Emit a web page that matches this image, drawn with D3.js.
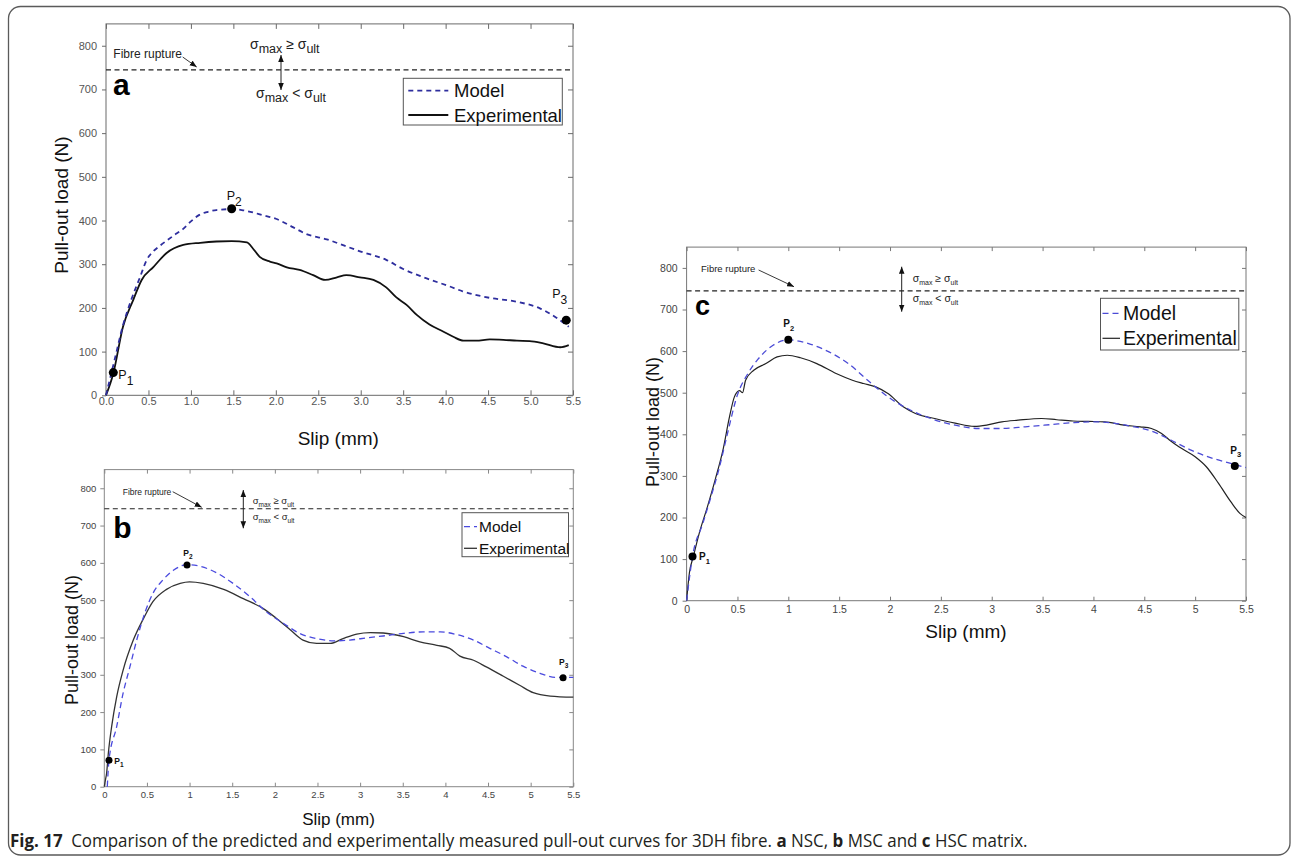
<!DOCTYPE html>
<html>
<head>
<meta charset="utf-8">
<script src="https://cdn.jsdelivr.net/npm/d3@7"></script>
<style>
  body { margin: 0; background: #fff; }
  svg { display: block; }
</style>
</head>
<body>
<div id="fig"></div>
<script>
// ---- data ----
const yTicks = [0, 100, 200, 300, 400, 500, 600, 700, 800];
const xTicks = [0, 0.5, 1, 1.5, 2, 2.5, 3, 3.5, 4, 4.5, 5, 5.5];
const ruptureLoad = 745;
const seriesNames = ["Model", "Experimental"];
const pointNames = ["1", "2", "3"];

// panel a (NSC)
const aModel = [[0,0],[0.1,80],[0.2,160],[0.3,220],[0.4,270],[0.48,310],[0.56,330],[0.64,343],[0.8,366],[0.91,381],
  [1.0,398],[1.1,413],[1.2,420],[1.3,424],[1.48,426],[1.6,424],[1.7,420],[1.85,412],[2.0,404],[2.2,385],[2.36,369],
  [2.6,357],[2.8,343],[3.0,329],[3.3,310],[3.5,289],[3.74,270],[4.05,249],[4.2,238],[4.52,223],[4.84,214],
  [5.11,199],[5.3,178],[5.45,157]];
const aExp = [[0,0],[0.086,50],[0.2,157],[0.32,218],[0.42,264],[0.56,294],[0.71,325],[0.91,344],[1.11,349],
  [1.3,352],[1.48,353],[1.66,350],[1.73,336],[1.81,317],[1.93,306],[2.01,302],[2.13,293],[2.28,287],[2.44,275],
  [2.58,264],[2.72,270],[2.83,275],[2.99,270],[3.15,264],[3.3,247],[3.42,224],[3.54,207],[3.66,184],[3.81,162],
  [3.97,146],[4.09,134],[4.21,125],[4.36,125],[4.52,128],[4.68,127],[4.84,125],[4.99,124],[5.15,119],
  [5.35,110],[5.45,115]];
const aPoints = [[0.086,52],[1.48,427],[5.42,172]];

// panel b (MSC)
const bModel = [[0.035,0],[0.055,71],[0.145,161],[0.22,250],[0.3,321],[0.38,393],[0.48,469],[0.57,518],[0.69,555],
  [0.81,580],[0.97,595],[1.12,591],[1.32,573],[1.51,545],[1.71,509],[1.9,469],[2.1,438],[2.29,411],[2.49,397],
  [2.69,391],[2.88,393],[3.08,399],[3.27,404],[3.51,411],[3.74,415],[3.94,415],[4.13,408],[4.33,393],[4.52,371],
  [4.72,348],[4.91,323],[5.11,304],[5.3,293],[5.5,293]];
const bExp = [[0,0],[0.015,20],[0.027,36],[0.047,89],[0.086,161],[0.145,241],[0.22,312],[0.34,393],[0.46,451],
  [0.57,496],[0.73,529],[0.89,545],[1.0,549],[1.16,545],[1.4,529],[1.63,504],[1.86,478],[2.02,451],[2.18,421],
  [2.33,393],[2.49,384],[2.65,384],[2.8,397],[2.96,409],[3.12,413],[3.27,412],[3.51,402],[3.7,388],[3.9,379],
  [4.05,371],[4.17,350],[4.33,339],[4.48,321],[4.68,296],[4.87,272],[5.03,252],[5.23,243],[5.5,240]];
const bPoints = [[0.055,71],[0.97,594],[5.38,292]];

// panel c (HSC)
const cModel = [[0,0],[0.058,106],[0.16,186],[0.24,250],[0.32,318],[0.4,400],[0.5,495],[0.6,545],[0.7,580],
  [0.85,614],[1.0,627],[1.2,618],[1.4,598],[1.59,570],[1.78,530],[1.98,490],[2.17,462],[2.4,438],[2.64,422],
  [2.87,414],[3.1,414],[3.33,418],[3.57,423],[3.8,428],[3.99,430],[4.19,427],[4.38,419],[4.57,408],[4.77,385],
  [4.96,362],[5.15,344],[5.35,330],[5.5,320]];
const cExp = [[0,0],[0.027,66],[0.066,106],[0.124,162],[0.2,222],[0.28,290],[0.36,365],[0.42,440],[0.47,490],
  [0.52,505],[0.55,500],[0.58,530],[0.66,554],[0.78,570],[0.89,586],[0.99,590],[1.12,584],[1.28,570],[1.47,546],
  [1.63,530],[1.74,522],[1.86,514],[1.98,498],[2.13,466],[2.25,450],[2.44,438],[2.64,427],[2.83,419],[2.95,422],
  [3.1,430],[3.26,434],[3.49,438],[3.64,435],[3.8,432],[3.95,431],[4.11,430],[4.3,422],[4.46,418],[4.57,414],
  [4.67,402],[4.76,384],[4.84,370],[5.0,346],[5.11,322],[5.23,282],[5.35,238],[5.44,210],[5.5,200]];
const cPoints = [[0.058,106],[1.0,627],[5.39,324]];

const FONT = "'Liberation Sans', Arial, sans-serif";

// ---- layout / style of each panel ----
const panels = [
  { tag: "a", model: aModel, exp: aExp, pts: aPoints,
    x0: 106, x1: 573, yBase: 395.3, yTop: 23.9, xFmt: d3.format(".1f"),
    axis: "#6a6a6a", tickCol: "#555", tickFs: 11, tickLen: 5, padX: 2, padY: 5,
    modelCol: "#2e2e9e", modelW: 1.8, modelDash: "5,4", expCol: "#111", expW: 1.8,
    r: 4.5, pFs: 12.5, pSub: 12, pBold: false, pSubDy: 6,
    pOff: [[5, 6], [-5, -9], [-14, -22]],
    tag_xy: [113, 95], tagFs: 30,
    yLab: [61.7, 205, 19], xLab: [338.3, 444.5, 19],
    rupText: [113.3, 57.5, 12], rupArrow: [182.7, 57, 196.7, 67],
    vArrow: [281, 55, 90], sigUp: [250, 49], sigLo: [256, 98], sigFs: 14, sigSub: 12.5, sigDy: 4,
    relUp: "\u2265",
    legend: { x: 403.3, y: 78.3, w: 159, h: 46.7, l0: 408.3, l1: 448.3, tx: 454, y1: 90.7, y2: 115, fs: 18.5, stroke: "#555" } },
  { tag: "b", model: bModel, exp: bExp, pts: bPoints,
    x0: 104.3, x1: 573.3, yBase: 786.7, yTop: 469.6, xFmt: d3.format(""),
    axis: "#888", tickCol: "#444", tickFs: 9.5, tickLen: 4, padX: 5, padY: 4,
    modelCol: "#4a4ade", modelW: 1.3, modelDash: "6,4", expCol: "#333", expW: 1.3,
    r: 3.5, pFs: 8.5, pSub: 6.5, pBold: true, pSubDy: 3,
    pOff: [[5.3, 3.5], [-3.7, -9], [-4, -12.5]],
    tag_xy: [113.3, 538], tagFs: 30,
    yLab: [72, 640, 18], xLab: [338.5, 825, 17],
    rupText: [122.7, 494.5, 8.5], rupArrow: [172.7, 491.7, 201.7, 507.3],
    vArrow: [243.3, 490, 528.3], sigUp: [252.7, 504], sigLo: [252.7, 520], sigFs: 9.5, sigSub: 6.5, sigDy: 3,
    relUp: "\u2265",
    legend: { x: 462, y: 512.7, w: 106.5, h: 44, l0: 464, l1: 477, tx: 479, y1: 526.7, y2: 548.3, fs: 15.5, stroke: "#555" } },
  { tag: "c", model: cModel, exp: cExp, pts: cPoints,
    x0: 686.6, x1: 1246, yBase: 600.7, yTop: 247.1, xFmt: d3.format(""),
    axis: "#777", tickCol: "#444", tickFs: 10.5, tickLen: 4, padX: 5, padY: 5,
    modelCol: "#4b4bd6", modelW: 1.3, modelDash: "6,4", expCol: "#222", expW: 1.2,
    r: 4, pFs: 10, pSub: 7.5, pBold: true, pSubDy: 3.5,
    pOff: [[6.5, 3.5], [-5, -12.4], [-4.5, -12]],
    tag_xy: [695, 315], tagFs: 27,
    yLab: [652.8, 422, 18], xLab: [966, 638, 19],
    rupText: [701, 271.5, 9.5], rupArrow: [758.6, 270, 794, 286.7],
    vArrow: [901.7, 266.7, 311.7], sigUp: [912.7, 282], sigLo: [912.7, 302], sigFs: 10.5, sigSub: 7, sigDy: 3,
    relUp: "\u2265",
    legend: { x: 1100.5, y: 298.3, w: 138.3, h: 51.7, l0: 1102.5, l1: 1120, tx: 1123, y1: 313.3, y2: 338.3, fs: 19.5, stroke: "#555" } }
];

const W = 1293, H = 865;
const svg = d3.select("#fig").append("svg").attr("width", W).attr("height", H);

// arrow head marker
svg.append("defs").append("marker")
  .attr("id", "head")
  .attr("viewBox", "0 0 10 8")
  .attr("refX", 10).attr("refY", 4)
  .attr("markerWidth", 7).attr("markerHeight", 6)
  .attr("markerUnits", "userSpaceOnUse")
  .attr("orient", "auto-start-reverse")
  .append("path").attr("d", "M0,0L10,4L0,8Z").attr("fill", "#111");

// outer rounded frame
svg.append("rect")
  .attr("x", 8.5).attr("y", 6.5)
  .attr("width", 1281.5).attr("height", 848.5)
  .attr("rx", 12).attr("ry", 12)
  .attr("fill", "none").attr("stroke", "#5a5a5a").attr("stroke-width", 1.3);

function sigma(g, x, y, rel, p) {
  const t = g.append("text").attr("x", x).attr("y", y)
    .attr("font-family", FONT).attr("font-size", p.sigFs).attr("fill", "#222");
  t.append("tspan").text("\u03c3");
  t.append("tspan").attr("font-size", p.sigSub).attr("dy", p.sigDy).text("max");
  t.append("tspan").attr("dy", -p.sigDy).text(" " + rel + " ");
  t.append("tspan").text("\u03c3");
  t.append("tspan").attr("font-size", p.sigSub).attr("dy", p.sigDy).text("ult");
}

function drawPanel(p) {
  const g = svg.append("g").attr("class", "panel-" + p.tag);
  const x = d3.scaleLinear().domain([0, 5.5]).range([p.x0, p.x1]);
  const y = d3.scaleLinear().domain([0, 850]).range([p.yBase, p.yTop]);

  const style = sel => {
    sel.select(".domain").remove();
    sel.selectAll("line").attr("stroke", p.axis);
    sel.selectAll("text").attr("fill", p.tickCol).attr("font-size", p.tickFs).attr("font-family", FONT);
  };

  // ticks: left outward, the others inward
  g.append("g").attr("transform", `translate(${p.x0},0)`)
    .call(d3.axisLeft(y).tickValues(yTicks).tickSizeInner(4).tickSizeOuter(0).tickPadding(p.padY))
    .call(style);
  g.append("g").attr("transform", `translate(0,${p.yBase})`)
    .call(d3.axisBottom(x).tickValues(xTicks).tickFormat(p.xFmt).tickSizeInner(-p.tickLen).tickSizeOuter(0).tickPadding(p.padX))
    .call(style);
  g.append("g").attr("transform", `translate(0,${p.yTop})`)
    .call(d3.axisTop(x).tickValues(xTicks).tickFormat("").tickSizeInner(-p.tickLen).tickSizeOuter(0))
    .call(style);
  g.append("g").attr("transform", `translate(${p.x1},0)`)
    .call(d3.axisRight(y).tickValues(yTicks).tickFormat("").tickSizeInner(-p.tickLen).tickSizeOuter(0))
    .call(style);

  g.append("rect")
    .attr("x", p.x0).attr("y", p.yTop)
    .attr("width", p.x1 - p.x0).attr("height", p.yBase - p.yTop)
    .attr("fill", "none").attr("stroke", p.axis).attr("stroke-width", 1);

  // fibre rupture line
  g.append("line")
    .attr("x1", x(0)).attr("x2", x(5.5))
    .attr("y1", y(ruptureLoad)).attr("y2", y(ruptureLoad))
    .attr("stroke", "#222").attr("stroke-width", 1.2).attr("stroke-dasharray", "5,3.5");
  g.append("text")
    .attr("x", p.rupText[0]).attr("y", p.rupText[1])
    .attr("font-family", FONT).attr("font-size", p.rupText[2]).attr("fill", "#222")
    .text("Fibre rupture");
  g.append("line")
    .attr("x1", p.rupArrow[0]).attr("y1", p.rupArrow[1])
    .attr("x2", p.rupArrow[2]).attr("y2", p.rupArrow[3])
    .attr("stroke", "#222").attr("stroke-width", 0.9)
    .attr("marker-end", "url(#head)");
  g.append("line")
    .attr("x1", p.vArrow[0]).attr("x2", p.vArrow[0])
    .attr("y1", p.vArrow[1]).attr("y2", p.vArrow[2])
    .attr("stroke", "#222").attr("stroke-width", 1)
    .attr("marker-start", "url(#head)").attr("marker-end", "url(#head)");
  sigma(g, p.sigUp[0], p.sigUp[1], p.relUp, p);
  sigma(g, p.sigLo[0], p.sigLo[1], "<", p);

  // curves
  const line = d3.line().x(d => x(d[0])).y(d => y(d[1])).curve(d3.curveMonotoneX);
  g.append("path").datum(p.exp)
    .attr("d", line).attr("fill", "none")
    .attr("stroke", p.expCol).attr("stroke-width", p.expW).attr("stroke-linejoin", "round");
  g.append("path").datum(p.model)
    .attr("d", line).attr("fill", "none")
    .attr("stroke", p.modelCol).attr("stroke-width", p.modelW).attr("stroke-dasharray", p.modelDash);

  // P1..P3 markers
  g.selectAll("circle.pt").data(p.pts).join("circle")
    .attr("class", "pt")
    .attr("cx", d => x(d[0])).attr("cy", d => y(d[1])).attr("r", p.r).attr("fill", "#000");
  const labs = g.selectAll("text.plab").data(p.pts).join("text")
    .attr("class", "plab")
    .attr("x", (d, i) => x(d[0]) + p.pOff[i][0])
    .attr("y", (d, i) => y(d[1]) + p.pOff[i][1])
    .attr("font-family", FONT).attr("font-size", p.pFs)
    .attr("font-weight", p.pBold ? "bold" : "normal").attr("fill", "#111");
  labs.append("tspan").text("P");
  labs.append("tspan").attr("font-size", p.pSub).attr("dy", p.pSubDy).text((d, i) => pointNames[i]);

  // panel letter
  g.append("text")
    .attr("x", p.tag_xy[0]).attr("y", p.tag_xy[1])
    .attr("font-family", FONT).attr("font-weight", "bold").attr("font-size", p.tagFs).attr("fill", "#000")
    .text(p.tag);

  // axis titles
  g.append("text")
    .attr("transform", `translate(${p.yLab[0]},${p.yLab[1]}) rotate(-90)`)
    .attr("text-anchor", "middle").attr("dy", "0.35em")
    .attr("font-family", FONT).attr("font-size", p.yLab[2]).attr("fill", "#111")
    .text("Pull-out load (N)");
  g.append("text")
    .attr("x", p.xLab[0]).attr("y", p.xLab[1])
    .attr("text-anchor", "middle")
    .attr("font-family", FONT).attr("font-size", p.xLab[2]).attr("fill", "#111")
    .text("Slip (mm)");

  // legend
  const L = p.legend;
  const lg = g.append("g");
  lg.append("rect")
    .attr("x", L.x).attr("y", L.y).attr("width", L.w).attr("height", L.h)
    .attr("fill", "#fff").attr("stroke", L.stroke).attr("stroke-width", 1);
  const rows = [
    { name: seriesNames[0], yy: L.y1, col: p.modelCol, dash: p.modelDash, w: p.modelW },
    { name: seriesNames[1], yy: L.y2, col: p.expCol, dash: null, w: p.expW }
  ];
  rows.forEach(r => {
    lg.append("line")
      .attr("x1", L.l0).attr("x2", L.l1).attr("y1", r.yy).attr("y2", r.yy)
      .attr("stroke", r.col).attr("stroke-width", r.w)
      .attr("stroke-dasharray", r.dash);
    lg.append("text")
      .attr("x", L.tx).attr("y", r.yy).attr("dy", "0.36em")
      .attr("font-family", FONT).attr("font-size", L.fs).attr("fill", "#111")
      .text(r.name);
  });
}

panels.forEach(drawPanel);

// caption
const cap = svg.append("text")
  .attr("x", 10).attr("y", 847)
  .attr("font-family", "'Open Sans', 'Noto Sans', sans-serif")
  .attr("font-size", 17.5).attr("fill", "#231f20");
const capParts = [
  ["Fig. 17", true], ["\u2002Comparison of the predicted and experimentally measured pull-out curves for 3DH fibre. ", false],
  ["a", true], [" NSC, ", false], ["b", true], [" MSC and ", false], ["c", true], [" HSC matrix.", false]
];
capParts.forEach(([t, b]) => cap.append("tspan").attr("font-weight", b ? "bold" : "normal").text(t));
const capW = cap.node().getComputedTextLength();
const capTarget = 1018;
cap.attr("transform", `translate(10,0) scale(${capTarget / capW},1) translate(-10,0)`);
</script>
</body>
</html>
